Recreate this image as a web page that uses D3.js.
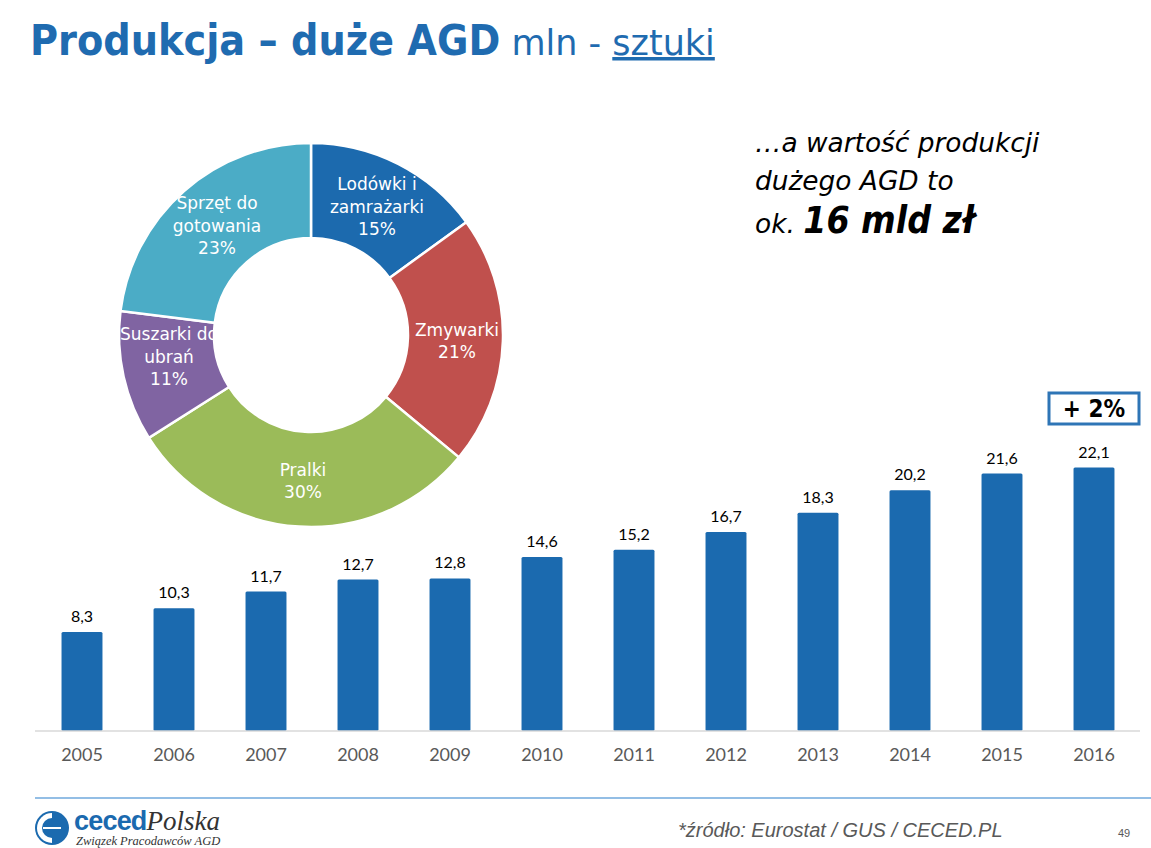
<!DOCTYPE html>
<html>
<head>
<meta charset="utf-8">
<script src="https://cdn.jsdelivr.net/npm/d3@7"></script>
<style>
  body { margin: 0; background: #fff; }
  svg { display: block; }
</style>
</head>
<body>
<svg width="1151" height="848"></svg>
<script>
// Data
let years = ["2005", "2006", "2007", "2008", "2009", "2010", "2011", "2012", "2013", "2014", "2015", "2016"];
let production = [8.3, 10.3, 11.7, 12.7, 12.8, 14.6, 15.2, 16.7, 18.3, 20.2, 21.6, 22.1];

let segments = [["Lodówki i", "zamrażarki"], ["Zmywarki"], ["Pralki"], ["Suszarki do", "ubrań"], ["Sprzęt do", "gotowania"]];
let shares = [15, 21, 30, 11, 23];
let segmentColors = ["#1c6aae", "#c0504d", "#9bbb59", "#8064a2", "#4bacc6"];

let svg = d3.select("svg");
let condFont = "'DejaVu Sans Condensed', 'DejaVu Sans', sans-serif";
let wideFont = "'DejaVu Sans', sans-serif";
let numFont = "Lato, 'Open Sans', sans-serif";

// Title
let title = svg.append("text")
  .attr("x", 30)
  .attr("y", 55)
  .attr("fill", "#1f6bb0");
title.append("tspan").style("font-family", condFont).attr("font-weight", "bold").attr("font-size", 42.6).text("Produkcja – duże AGD");
title.append("tspan").style("font-family", wideFont).attr("font-size", 35).text(" mln - ");
title.append("tspan").style("font-family", wideFont).attr("font-size", 35).attr("text-decoration", "underline").text("sztuki");

// Donut
let cx = 311, cy = 335;
let pie = d3.pie().sort(null).value(d => d);
let arc = d3.arc().innerRadius(97).outerRadius(192);
let donut = svg.append("g").attr("transform", "translate(" + cx + "," + cy + ")");

let arcs = pie(shares);
donut.selectAll("path")
  .data(arcs)
  .enter()
  .append("path")
  .attr("d", arc)
  .attr("fill", (d, i) => segmentColors[i])
  .attr("stroke", "white")
  .attr("stroke-width", 2.5);

// label positions (offsets from center)
let labelPos = [[66, -122], [146, 12], [-8, 152], [-142, 28], [-94, -103]];
arcs.forEach(function(d, i) {
  let lines = segments[i].concat([shares[i] + "%"]);
  let t = donut.append("text")
    .attr("text-anchor", "middle")
    .attr("fill", "white")
    .style("font-family", wideFont)
    .style("font-size", "17px");
  lines.forEach(function(line, j) {
    t.append("tspan")
      .attr("x", labelPos[i][0])
      .attr("y", labelPos[i][1] - (lines.length - 1) * 11.5 + j * 22.5)
      .text(line);
  });
});

// Note on the right
svg.append("text").attr("x", 755).attr("y", 152)
  .style("font-family", wideFont).style("font-style", "italic").style("font-size", "26.4px")
  .attr("fill", "#000").text("…a wartość produkcji");
svg.append("text").attr("x", 755).attr("y", 190)
  .style("font-family", wideFont).style("font-style", "italic").style("font-size", "26.4px")
  .attr("fill", "#000").text("dużego AGD to");
let note3 = svg.append("text").attr("x", 755).attr("y", 233)
  .style("font-style", "italic").attr("fill", "#000");
note3.append("tspan").style("font-family", wideFont).style("font-size", "26.4px").text("ok. ");
note3.append("tspan").style("font-family", condFont).style("font-size", "37px").style("font-weight", "bold").text("16 mld zł");

// Bar chart
let baseY = 731;
let x = d3.scaleBand().domain(years).range([36, 1140]).paddingInner(0.555).paddingOuter(0.2775);
let y = d3.scaleLinear().domain([0, 25]).range([baseY, baseY - 298]);

svg.append("g")
  .selectAll("rect")
  .data(production)
  .enter()
  .append("rect")
  .attr("x", (d, i) => x(years[i]))
  .attr("y", d => y(d))
  .attr("width", x.bandwidth())
  .attr("height", d => baseY - y(d))
  .attr("rx", 1.5)
  .attr("fill", "#1b6aaf");

svg.append("g")
  .selectAll("text")
  .data(production)
  .enter()
  .append("text")
  .attr("x", (d, i) => x(years[i]) + x.bandwidth() / 2)
  .attr("y", d => y(d) - 10)
  .attr("text-anchor", "middle")
  .style("font-family", numFont)
  .style("font-size", "16px")
  .attr("fill", "#000")
  .text(d => d.toFixed(1).replace(".", ","));

let xAxis = svg.append("g")
  .attr("transform", "translate(0," + baseY + ")")
  .call(d3.axisBottom(x).tickSize(0).tickPadding(17));
xAxis.select(".domain").attr("stroke", "#d9d9d9").attr("stroke-width", 1.5)
  .attr("d", "M35,0H1140");
xAxis.selectAll("text")
  .style("font-family", numFont)
  .style("font-size", "18px")
  .attr("fill", "#595959");

// +2% box
let lastX = x(years[years.length - 1]) + x.bandwidth() / 2;
svg.append("rect")
  .attr("x", lastX - 45).attr("y", 393)
  .attr("width", 90).attr("height", 31)
  .attr("fill", "white").attr("stroke", "#2e75b6").attr("stroke-width", 3);
svg.append("text")
  .attr("x", lastX).attr("y", 417)
  .attr("text-anchor", "middle")
  .style("font-family", condFont).style("font-weight", "bold").style("font-size", "24px")
  .attr("fill", "#000").text("+ 2%");

// Footer
svg.append("line")
  .attr("x1", 35).attr("x2", 1151).attr("y1", 798).attr("y2", 798)
  .attr("stroke", "#6fa8dc").attr("stroke-width", 1.5);

let logo = svg.append("g").attr("transform", "translate(35,809)");
logo.append("circle").attr("cx", 17).attr("cy", 19).attr("r", 17).attr("fill", "#1b6aaf");
logo.append("path").attr("d", "M17,4 A15,15 0 0,0 17,34 Z").attr("fill", "white");
logo.append("path").attr("d", "M17,9 A10,10 0 0,0 17,29 Z").attr("fill", "#1b6aaf");
logo.append("line").attr("x1", 8).attr("x2", 26).attr("y1", 19).attr("y2", 19).attr("stroke", "white").attr("stroke-width", 2);
let logoText = logo.append("text").attr("x", 39).attr("y", 21);
logoText.append("tspan")
  .style("font-family", "'Liberation Sans', Arial, sans-serif").style("font-weight", "900").style("font-size", "27px")
  .attr("letter-spacing", -0.8).attr("fill", "#1b6aaf").text("ceced");
logoText.append("tspan")
  .style("font-family", "'Liberation Serif', serif").style("font-style", "italic").style("font-size", "27px")
  .attr("fill", "#333").text("Polska");
logo.append("text").attr("x", 41).attr("y", 36)
  .style("font-family", "'Liberation Serif', serif").style("font-style", "italic").style("font-size", "12.5px")
  .attr("fill", "#333").text("Związek Pracodawców AGD");

svg.append("text").attr("x", 678).attr("y", 837)
  .style("font-family", "'Liberation Sans Narrow', 'Liberation Sans', sans-serif").style("font-style", "italic").style("font-size", "20px")
  .attr("fill", "#595959").text("*źródło: Eurostat / GUS / CECED.PL");
svg.append("text").attr("x", 1118).attr("y", 837)
  .style("font-family", "'Liberation Sans Narrow', 'Liberation Sans', sans-serif").style("font-size", "11px")
  .attr("fill", "#595959").text("49");
</script>
</body>
</html>
